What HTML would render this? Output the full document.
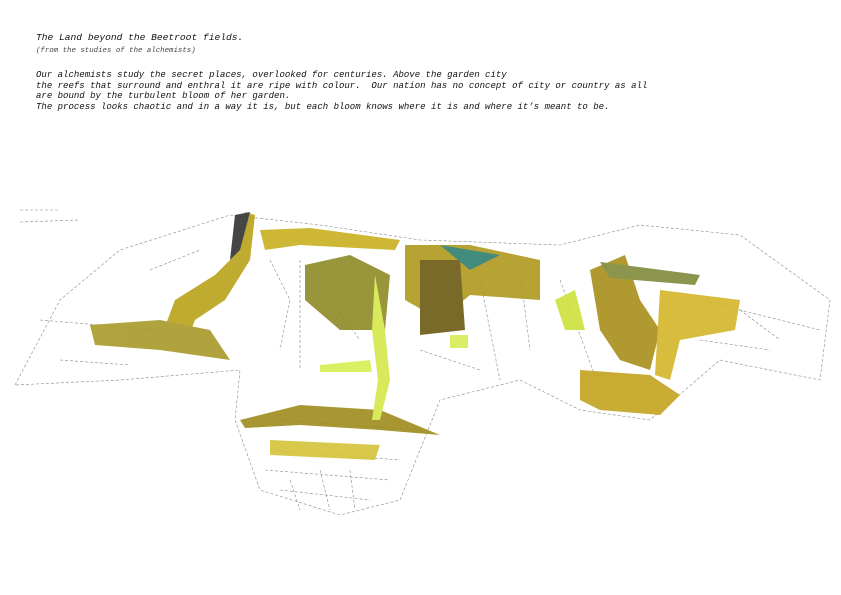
<!DOCTYPE html>
<html><head><meta charset="utf-8"><style>
body{margin:0;background:#fff;width:841px;height:595px;overflow:hidden;position:relative}
.t{position:absolute;left:36px;font-family:"Liberation Mono",monospace;font-style:italic;color:#111;white-space:pre;font-size:9.02px;line-height:10.5px}
svg{position:absolute;left:0;top:0}
</style></head><body>
<div class="t" style="top:33px;font-size:9.6px">The Land beyond the Beetroot fields.</div>
<div class="t" style="top:46px;font-size:7.4px;color:#444">(from the studies of the alchemists)</div>
<div class="t" style="top:70px">Our alchemists study the secret places, overlooked for centuries. Above the garden city
the reefs that surround and enthral it are ripe with colour.  Our nation has no concept of city or country as all
are bound by the turbulent bloom of her garden.
The process looks chaotic and in a way it is, but each bloom knows where it is and where it’s meant to be.</div>
<svg width="841" height="595" viewBox="0 0 841 595">
<g fill="none" stroke="#888" stroke-width="0.6" stroke-dasharray="3 2">
<path d="M15 385 L60 300 L120 250 L230 215 L320 225 L420 240 L560 245 L640 225 L740 235 L830 300 L820 380 L720 360 L650 420 L580 410 L520 380 L440 400 L400 500 L340 515 L260 490 L235 420 L240 370 L120 380 Z"/>
<path d="M20 210 L60 210 M20 222 L80 220 M40 320 L160 330 M300 260 L300 370 M480 280 L500 380 M560 280 L600 390 M700 300 L820 330 M280 420 L420 430 M270 450 L400 460 M265 470 L390 480 M280 490 L370 500"/>
<path d="M270 260 L290 300 L280 350 M330 300 L360 340 M520 270 L530 350 M420 350 L480 370 M740 310 L780 340 M150 270 L200 250 M60 360 L130 365 M700 340 L770 350 M290 480 L300 510 M320 470 L330 510 M350 470 L355 510"/>
</g>
<g opacity="0.9">
<path d="M160 340 L175 300 L215 275 L240 250 L245 212 L255 215 L250 260 L225 300 L195 320 L185 345 Z" fill="#b8a21a"/>
<path d="M90 325 L160 320 L210 330 L230 360 L160 350 L95 345 Z" fill="#a89a2a"/>
<path d="M260 230 L310 228 L400 240 L395 250 L300 245 L265 250 Z" fill="#c9b020"/>
<path d="M305 265 L350 255 L390 275 L385 330 L340 330 L305 300 Z" fill="#8d8a25"/>
<path d="M405 245 L470 245 L540 260 L540 300 L470 295 L440 320 L405 300 Z" fill="#b09a1e"/>
<path d="M420 260 L460 260 L465 330 L420 335 Z" fill="#6b5a14"/>
<path d="M440 245 L500 255 L470 270 Z" fill="#2f7f70"/>
<path d="M590 270 L625 255 L640 300 L660 330 L650 370 L620 360 L600 330 Z" fill="#a88f1a"/>
<path d="M580 370 L650 375 L680 395 L660 415 L600 410 L580 400 Z" fill="#c2a31e"/>
<path d="M600 262 L700 275 L695 285 L610 278 Z" fill="#7f8a3a"/>
<path d="M660 290 L740 300 L735 330 L680 340 L670 380 L655 375 Z" fill="#d3b52a"/>
<path d="M240 420 L300 405 L380 410 L440 435 L380 430 L300 425 L245 428 Z" fill="#9f8b1c"/>
<path d="M270 440 L380 445 L375 460 L270 455 Z" fill="#d4c43a"/>
<path d="M375 275 L385 330 L390 380 L380 420 L372 420 L378 380 L372 330 Z" fill="#d4e84a"/>
<path d="M320 365 L370 360 L372 372 L320 372 Z" fill="#d8ee55"/>
<path d="M555 300 L575 290 L585 330 L565 330 Z" fill="#cde03a"/>
<path d="M450 335 L468 335 L468 348 L450 348 Z" fill="#d6ec55"/>
<path d="M235 215 L250 212 L240 250 L230 260 Z" fill="#333"/>
</g>
</svg>
</body></html>
